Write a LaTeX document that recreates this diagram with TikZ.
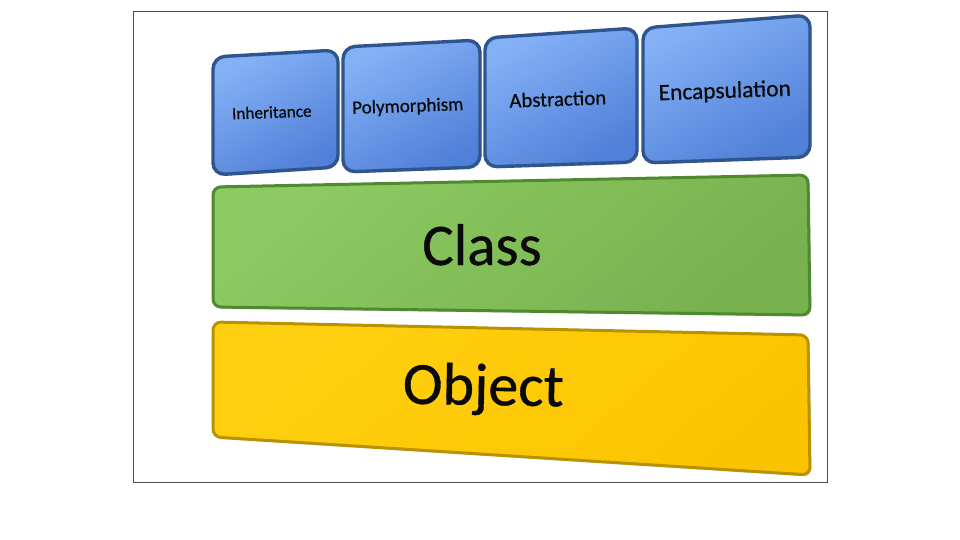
\documentclass[tikz,border=0pt]{standalone}
\usepackage{fontspec}
\setmainfont{Carlito}
\newfontfamily\tilefont[FakeBold=0.6]{Carlito}
\usetikzlibrary{shadows}

\definecolor{blueLight}{HTML}{84B1F6}
\definecolor{blueDark}{HTML}{5080D8}
\definecolor{blueEdge}{HTML}{2F558F}
\definecolor{greenLight}{HTML}{8DCA62}
\definecolor{greenDark}{HTML}{78B24F}
\definecolor{greenEdge}{HTML}{4F8A30}
\definecolor{yellowLight}{HTML}{FFD010}
\definecolor{yellowDark}{HTML}{FCC400}
\definecolor{yellowEdge}{HTML}{B89200}
\definecolor{labelInk}{HTML}{0A0A0A}

\tikzset{
  tile/.style={rounded corners=6pt, line width=1.7pt,
    drop shadow={shadow xshift=0.8pt, shadow yshift=-0.8pt, opacity=0.4}},
  bluetile/.style={tile, draw=blueEdge, top color=blueLight, bottom color=blueDark, shading angle=30},
  greentile/.style={tile, rounded corners=4pt, line width=1.5pt, draw=greenEdge, top color=greenLight, bottom color=greenDark, shading angle=40},
  yellowtile/.style={tile, rounded corners=4pt, line width=1.5pt, draw=yellowEdge, top color=yellowLight, bottom color=yellowDark, shading angle=40},
  tilelabel/.style={anchor=base, text=labelInk, inner sep=0pt}
}

\begin{document}
\begin{tikzpicture}[x=0.5pt,y=-0.5pt]
\useasboundingbox (0,0) rectangle (960,540);
% frame
\draw[gray!60!black, line width=0.5pt] (133,12) rectangle (827,482);

% top row: the four pillars
\path[bluetile] (213,57) -- (338,50) -- (338,167) -- (213,175) -- cycle;
\path[bluetile] (343,47) -- (480,40) -- (480,167) -- (343,172) -- cycle;
\path[bluetile] (485,38) -- (637,28) -- (637,162) -- (485,167) -- cycle;
\path[bluetile] (643,28) -- (810,15) -- (810,157) -- (643,163) -- cycle;
\node[tilelabel, rotate=2, font=\tilefont\fontsize{8.6}{10}\selectfont] (inh) at (272,118) {Inheritance};
\node[tilelabel, rotate=2, font=\tilefont\fontsize{9.5}{11}\selectfont] (poly) at (408,112) {Polymorphism};
\node[tilelabel, rotate=2, font=\tilefont\fontsize{10.4}{12}\selectfont] (abs) at (558,106) {Abstraction};
\node[tilelabel, rotate=2, font=\tilefont\fontsize{11.7}{13}\selectfont] (enc) at (725,98) {Encapsulation};

% middle and bottom bars
\path[greentile] (213,187) -- (808,175) -- (810,315) -- (213,307) -- cycle;
\node[tilelabel, font=\tilefont\fontsize{29.5}{32}\selectfont] (cls) at (482,265) {Class};

\path[yellowtile] (213,322) -- (808,335) -- (810,475) -- (213,437) -- cycle;
\node[tilelabel, rotate=-1, font=\tilefont\fontsize{30}{33}\selectfont] (obj) at (483,405) {Object};
\end{tikzpicture}
\end{document}
